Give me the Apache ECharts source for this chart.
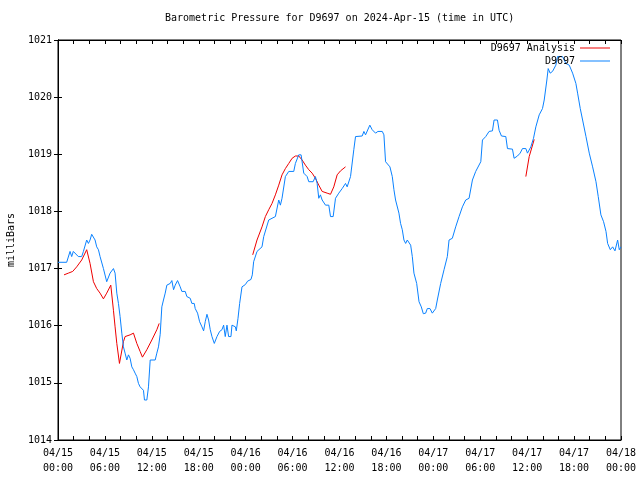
<!DOCTYPE html>
<html>
<head>
<meta charset="utf-8">
<script src="https://cdn.jsdelivr.net/npm/echarts@6/dist/echarts.min.js"></script>
<style>html,body{margin:0;padding:0;background:#fff;}#c{width:640px;height:480px;}</style>
</head>
<body>
<div id="c"></div>
<script>
// Hours since 2024-04-15 00:00 UTC
var blueHours = [0,1.11,1.54,1.75,1.96,2.18,2.60,3.03,3.25,3.46,3.67,3.89,4.10,4.31,4.53,4.74,4.95,5.17,5.38,5.59,5.81,6.02,6.23,6.45,6.66,6.88,7.09,7.30,7.52,7.73,7.94,8.16,8.37,8.58,8.80,9.01,9.22,9.44,9.65,9.86,10.08,10.29,10.50,10.72,10.93,11.06,11.36,11.57,11.79,12.43,12.64,12.85,13.07,13.28,13.49,13.71,13.92,14.35,14.56,14.78,14.99,15.29,15.63,15.84,16.27,16.48,16.91,17.12,17.42,17.55,17.85,18.11,18.41,18.62,18.83,19.05,19.26,19.47,19.69,19.99,20.33,20.67,20.97,21.18,21.39,21.61,21.82,22.12,22.25,22.68,22.80,23.02,23.23,23.53,23.96,24.25,24.68,24.85,25.02,25.45,26.09,26.31,26.95,27.37,27.80,28.23,28.44,28.65,29.08,29.51,30.15,30.36,30.79,31.09,31.43,31.86,32.07,32.63,32.92,33.14,33.35,33.56,33.78,34.21,34.63,34.85,35.19,35.49,35.91,36.34,36.77,36.98,37.41,37.83,38.05,38.90,39.12,39.33,39.88,40.18,40.61,40.91,41.47,41.68,41.89,42.45,42.75,42.96,43.17,43.60,43.81,44.03,44.24,44.46,44.67,45.10,45.31,45.52,45.87,46.17,46.46,46.72,47.02,47.23,47.57,47.87,48.30,48.51,48.94,49.37,49.79,50.01,50.43,50.86,51.29,51.72,52.14,52.57,53.00,53.42,53.64,54.07,54.28,54.70,55.13,55.56,55.77,56.20,56.41,56.71,57.27,57.48,58.12,58.33,58.76,59.10,59.40,59.83,60.04,60.47,60.81,61.11,61.54,61.96,62.18,62.52,62.69,62.94,63.24,63.67,63.88,64.52,64.95,65.38,65.81,66.23,66.45,66.79,67.09,67.52,67.94,68.37,68.80,69.09,69.43,69.77,70.08,70.29,70.63,70.93,71.23,71.57,71.78,72.00];
var blueValues = [1017.11,1017.11,1017.30,1017.21,1017.30,1017.30,1017.21,1017.21,1017.30,1017.30,1017.50,1017.44,1017.50,1017.60,1017.59,1017.50,1017.38,1017.33,1017.21,1017.18,1017.00,1016.98,1016.77,1016.77,1016.92,1016.89,1017.00,1016.92,1016.57,1016.39,1016.16,1015.87,1015.63,1015.52,1015.40,1015.49,1015.43,1015.28,1015.23,1015.17,1015.11,1014.99,1014.93,1014.90,1014.87,1014.70,1014.70,1014.93,1015.40,1015.40,1015.52,1015.63,1015.85,1016.33,1016.45,1016.57,1016.71,1016.74,1016.79,1016.63,1016.71,1016.79,1016.68,1016.60,1016.60,1016.51,1016.48,1016.39,1016.39,1016.30,1016.22,1016.07,1015.98,1015.91,1016.07,1016.20,1016.10,1015.93,1015.81,1015.69,1015.81,1015.90,1015.93,1016.01,1015.81,1016.01,1015.81,1015.81,1016.01,1015.98,1015.91,1016.13,1016.39,1016.68,1016.72,1016.78,1016.81,1016.89,1017.12,1017.30,1017.38,1017.56,1017.85,1017.88,1017.91,1018.20,1018.11,1018.23,1018.61,1018.70,1018.70,1018.84,1018.99,1018.99,1018.67,1018.61,1018.52,1018.52,1018.61,1018.49,1018.23,1018.29,1018.20,1018.11,1018.11,1017.91,1017.91,1018.23,1018.32,1018.40,1018.49,1018.43,1018.61,1019.08,1019.31,1019.32,1019.40,1019.34,1019.51,1019.43,1019.37,1019.40,1019.40,1019.34,1018.87,1018.78,1018.61,1018.38,1018.20,1017.97,1017.79,1017.68,1017.50,1017.44,1017.50,1017.41,1017.21,1016.92,1016.74,1016.42,1016.33,1016.21,1016.22,1016.30,1016.30,1016.22,1016.30,1016.45,1016.74,1016.98,1017.21,1017.50,1017.53,1017.73,1017.91,1018.08,1018.20,1018.23,1018.55,1018.70,1018.73,1018.87,1019.25,1019.31,1019.40,1019.41,1019.60,1019.60,1019.42,1019.32,1019.31,1019.10,1019.09,1018.93,1018.97,1019.02,1019.10,1019.10,1019.02,1019.13,1019.28,1019.48,1019.69,1019.80,1019.95,1020.30,1020.50,1020.42,1020.45,1020.56,1020.71,1020.71,1020.59,1020.56,1020.42,1020.24,1020.07,1019.80,1019.60,1019.31,1019.02,1018.78,1018.52,1018.26,1017.94,1017.82,1017.65,1017.44,1017.33,1017.38,1017.31,1017.50,1017.33,1017.38];

// Analysis series; null marks a gap between segments
var redHours = [0.77,1.32,1.88,2.39,3.03,3.67,4.10,4.53,4.95,5.38,5.81,6.23,6.75,7.09,7.30,7.52,7.86,8.37,8.58,9.22,9.65,10.08,10.50,10.80,11.36,12.00,12.64,12.94,
  18.0,
  24.90,25.45,26.09,26.52,26.95,27.37,27.80,28.23,28.65,29.08,29.51,29.94,30.36,30.79,31.22,31.64,32.07,32.50,32.92,33.35,33.78,34.42,34.85,35.27,35.70,36.13,36.77,
  48.0,
  59.83,60.26,60.90];
var redValues = [1016.89,1016.92,1016.95,1017.03,1017.15,1017.33,1017.09,1016.77,1016.65,1016.57,1016.47,1016.57,1016.71,1016.27,1015.98,1015.69,1015.34,1015.72,1015.81,1015.84,1015.87,1015.69,1015.55,1015.45,1015.58,1015.75,1015.93,1016.04,
  null,
  1017.24,1017.50,1017.73,1017.91,1018.03,1018.14,1018.29,1018.46,1018.64,1018.75,1018.84,1018.93,1018.97,1018.97,1018.90,1018.81,1018.73,1018.67,1018.58,1018.46,1018.35,1018.32,1018.30,1018.43,1018.64,1018.71,1018.78,
  null,
  1018.61,1018.96,1019.26];

var xTickLabels = ['04/15\n00:00','04/15\n06:00','04/15\n12:00','04/15\n18:00','04/16\n00:00','04/16\n06:00','04/16\n12:00','04/16\n18:00','04/17\n00:00','04/17\n06:00','04/17\n12:00','04/17\n18:00','04/18\n00:00'];
var yTicks = [1014,1015,1016,1017,1018,1019,1020,1021];

var titleText = 'Barometric Pressure for D9697 on 2024-Apr-15 (time in UTC)';
var FONT = 'DejaVu Sans Mono';

function pairs(hs, vs) {
  return hs.map(function (h, i) { return [h, vs[i] === null ? '-' : vs[i]]; });
}

var chart = echarts.init(document.getElementById('c'), null, {renderer: 'canvas'});
var tickStyle = {show: true, inside: true, length: 4, lineStyle: {color: '#000', width: 1}};
chart.setOption({
  animation: false,
  backgroundColor: '#fff',
  textStyle: {fontFamily: FONT},
  title: {
    text: titleText,
    left: 165, top: 13, padding: 0,
    textStyle: {fontFamily: FONT, fontSize: 10, fontWeight: 'normal', color: '#000'}
  },
  grid: {left: 58, right: 19, top: 40, bottom: 40, containLabel: false, outerBoundsMode: 'none',
         show: true, borderColor: '#000', borderWidth: 1, backgroundColor: 'transparent'},
  legend: [
    {data: ['D9697 Analysis'], right: 30, top: 43, padding: 0, align: 'right', icon: 'rect', itemWidth: 30, itemHeight: 1,
     textStyle: {fontFamily: FONT, fontSize: 10, color: '#000'}},
    {data: ['D9697'], right: 30, top: 56, padding: 0, align: 'right', icon: 'rect', itemWidth: 30, itemHeight: 1,
     textStyle: {fontFamily: FONT, fontSize: 10, color: '#000'}}
  ],
  xAxis: [
    {type: 'value', min: 0, max: 72, interval: 6, position: 'bottom',
     axisLine: {show: true, lineStyle: {color: '#000'}},
     axisTick: tickStyle,
     minorTick: {show: true, splitNumber: 3, length: 4, lineStyle: {color: '#000', width: 1}},
     splitLine: {show: false},
     axisLabel: {margin: 6, fontFamily: FONT, fontSize: 10, color: '#000', lineHeight: 15,
       showMinLabel: true, showMaxLabel: true, hideOverlap: false,
       formatter: function (v) { var i = Math.round(v / 6); return xTickLabels[i] || ''; }}},
    {type: 'value', min: 0, max: 72, interval: 6, position: 'top',
     axisLine: {show: true, lineStyle: {color: '#000'}},
     axisTick: tickStyle,
     minorTick: {show: true, splitNumber: 3, length: 4, lineStyle: {color: '#000', width: 1}},
     splitLine: {show: false}, axisLabel: {show: false}}
  ],
  yAxis: [
    {type: 'value', min: yTicks[0], max: yTicks[yTicks.length - 1], interval: 1, position: 'left',
     name: 'milliBars', nameLocation: 'middle', nameGap: 42, nameRotate: 90,
     nameTextStyle: {fontFamily: FONT, fontSize: 10, color: '#000'},
     axisLine: {show: true, lineStyle: {color: '#000'}},
     axisTick: tickStyle, splitLine: {show: false},
     axisLabel: {margin: 6, fontFamily: FONT, fontSize: 10, color: '#000',
       formatter: function (v) { return String(v); }}},
    {type: 'value', min: yTicks[0], max: yTicks[yTicks.length - 1], interval: 1, position: 'right',
     axisLine: {show: true, lineStyle: {color: '#000'}},
     axisTick: tickStyle, splitLine: {show: false}, axisLabel: {show: false}}
  ],
  series: [
    {name: 'D9697 Analysis', type: 'line', xAxisIndex: 0, yAxisIndex: 0, showSymbol: false, symbol: 'none',
     connectNulls: false, color: '#ee0000', lineStyle: {width: 1, color: '#ee0000'},
     data: pairs(redHours, redValues)},
    {name: 'D9697', type: 'line', xAxisIndex: 0, yAxisIndex: 0, showSymbol: false, symbol: 'none',
     color: '#0a82ff', lineStyle: {width: 1, color: '#0a82ff'},
     data: pairs(blueHours, blueValues)}
  ]
});
</script>
</body>
</html>
